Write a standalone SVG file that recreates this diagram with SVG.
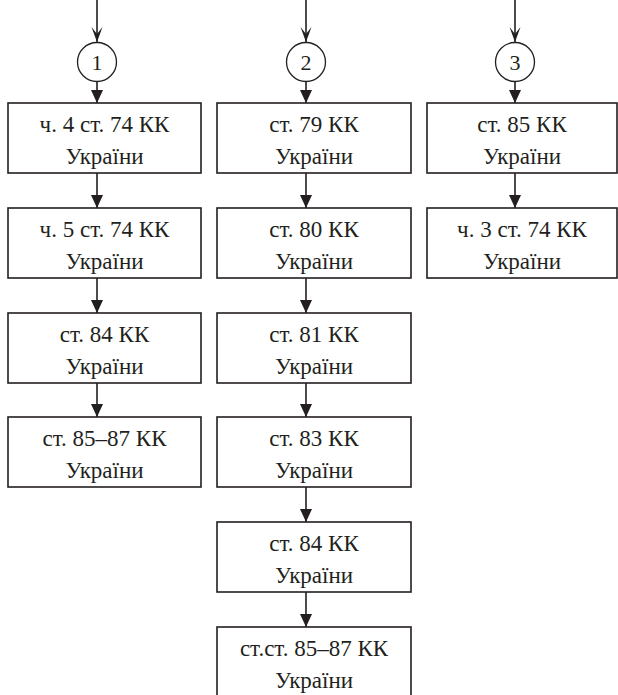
<svg xmlns="http://www.w3.org/2000/svg" width="618" height="695" viewBox="0 0 618 695">
<style>
.box{fill:#fff;stroke:#231f20;stroke-width:1.6}
.circ{fill:#fff;stroke:#231f20;stroke-width:1.3}
.t{font-family:"Liberation Serif","Times New Roman",serif;font-size:23px;fill:#231f20;text-anchor:middle}
.n{font-family:"Liberation Serif","Times New Roman",serif;font-size:22px;fill:#231f20;text-anchor:middle}
.c line{stroke:#231f20;stroke-width:1.6}
</style>
<defs>
<marker id="ah" markerUnits="userSpaceOnUse" markerWidth="14" markerHeight="12" refX="13" refY="6" orient="auto" viewBox="0 0 14 12">
<path d="M0,0 L13,6 L0,12 Z" fill="#231f20"/>
</marker>
<marker id="ah2" markerUnits="userSpaceOnUse" markerWidth="16" markerHeight="12" refX="15" refY="6" orient="auto" viewBox="0 0 16 12">
<path d="M0,0.5 L15,6 L0,11.5 L7,6 Z" fill="#231f20"/>
</marker>
</defs>
<g class="c" id="connectors">
<line x1="97" y1="0" x2="97" y2="42" marker-end="url(#ah2)"/>
<line x1="306" y1="0" x2="306" y2="42" marker-end="url(#ah2)"/>
<line x1="515" y1="0" x2="515" y2="42" marker-end="url(#ah2)"/>
<line x1="97" y1="82" x2="97" y2="103" marker-end="url(#ah)"/>
<line x1="306" y1="82" x2="306" y2="103" marker-end="url(#ah)"/>
<line x1="515" y1="82" x2="515" y2="103" marker-end="url(#ah)"/>
<line x1="97" y1="173" x2="97" y2="208" marker-end="url(#ah)"/>
<line x1="97" y1="278" x2="97" y2="313" marker-end="url(#ah)"/>
<line x1="97" y1="383" x2="97" y2="417" marker-end="url(#ah)"/>
<line x1="306" y1="173" x2="306" y2="208" marker-end="url(#ah)"/>
<line x1="306" y1="278" x2="306" y2="313" marker-end="url(#ah)"/>
<line x1="306" y1="383" x2="306" y2="417" marker-end="url(#ah)"/>
<line x1="306" y1="487" x2="306" y2="522" marker-end="url(#ah)"/>
<line x1="306" y1="592" x2="306" y2="627" marker-end="url(#ah)"/>
<line x1="515" y1="173" x2="515" y2="208" marker-end="url(#ah)"/>
</g>
<g id="c1"><circle class="circ" cx="97" cy="62" r="19.5"/><text class="n" x="97" y="70">1</text></g>
<g id="c2"><circle class="circ" cx="306" cy="62" r="19.5"/><text class="n" x="306" y="70">2</text></g>
<g id="c3"><circle class="circ" cx="515" cy="62" r="19.5"/><text class="n" x="515" y="70">3</text></g>
<g id="a1"><rect class="box" x="8" y="103" width="193" height="70"/><text class="t" x="104.5" y="132">ч. 4 ст. 74 КК</text><text class="t" x="104.5" y="164">України</text></g>
<g id="a2"><rect class="box" x="8" y="208" width="193" height="70"/><text class="t" x="104.5" y="237">ч. 5 ст. 74 КК</text><text class="t" x="104.5" y="269">України</text></g>
<g id="a3"><rect class="box" x="8" y="313" width="193" height="70"/><text class="t" x="104.5" y="342">ст. 84 КК</text><text class="t" x="104.5" y="374">України</text></g>
<g id="a4"><rect class="box" x="8" y="417" width="193" height="70"/><text class="t" x="104.5" y="446">ст. 85–87 КК</text><text class="t" x="104.5" y="478">України</text></g>
<g id="b1"><rect class="box" x="217" y="103" width="194" height="70"/><text class="t" x="314" y="132">ст. 79 КК</text><text class="t" x="314" y="164">України</text></g>
<g id="b2"><rect class="box" x="217" y="208" width="194" height="70"/><text class="t" x="314" y="237">ст. 80 КК</text><text class="t" x="314" y="269">України</text></g>
<g id="b3"><rect class="box" x="217" y="313" width="194" height="70"/><text class="t" x="314" y="342">ст. 81 КК</text><text class="t" x="314" y="374">України</text></g>
<g id="b4"><rect class="box" x="217" y="417" width="194" height="70"/><text class="t" x="314" y="446">ст. 83 КК</text><text class="t" x="314" y="478">України</text></g>
<g id="b5"><rect class="box" x="217" y="522" width="194" height="70"/><text class="t" x="314" y="551">ст. 84 КК</text><text class="t" x="314" y="583">України</text></g>
<g id="b6"><rect class="box" x="217" y="627" width="194" height="70"/><text class="t" x="314" y="656">ст.ст. 85–87 КК</text><text class="t" x="314" y="688">України</text></g>
<g id="d1"><rect class="box" x="427" y="103" width="190" height="70"/><text class="t" x="522" y="132">ст. 85 КК</text><text class="t" x="522" y="164">України</text></g>
<g id="d2"><rect class="box" x="427" y="208" width="190" height="70"/><text class="t" x="522" y="237">ч. 3 ст. 74 КК</text><text class="t" x="522" y="269">України</text></g>
</svg>
